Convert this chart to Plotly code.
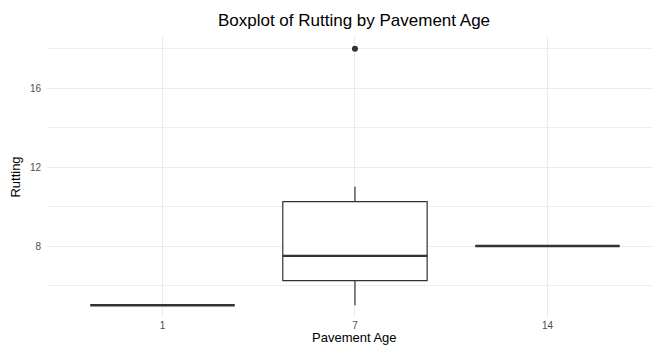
import plotly.graph_objects as go

ages = ["1", "7", "14"]
q1 = [5, 6.25, 8]
medians = [5, 7.5, 8]
q3 = [5, 10.25, 8]
lower_whisker = [5, 5, 8]
upper_whisker = [5, 11, 8]
outlier_ages = ["7"]
outlier_values = [18]

box_width = 0.75
positions = list(range(len(ages)))
pos_of = {a: i for i, a in enumerate(ages)}
line_col = "#333333"

W, H = 653, 339  # page body has an 8px margin

fig = go.Figure()
fig.add_trace(go.Box(
    x=positions, q1=q1, median=medians, q3=q3,
    lowerfence=lower_whisker, upperfence=upper_whisker,
    width=box_width, fillcolor="white",
    line=dict(color=line_col, width=1.2),
    boxpoints=False, whiskerwidth=0, showlegend=False, hoverinfo="skip",
))
mx, my = [], []
for i, m in enumerate(medians):
    mx += [i - box_width / 2, i + box_width / 2, None]
    my += [m, m, None]
fig.add_trace(go.Scatter(x=mx, y=my, mode="lines",
                         line=dict(color=line_col, width=2.4),
                         showlegend=False, hoverinfo="skip"))
fig.add_trace(go.Scatter(x=[pos_of[a] for a in outlier_ages], y=outlier_values,
                         mode="markers", marker=dict(color=line_col, size=6),
                         showlegend=False))

fig.add_annotation(text="Pavement Age", xref="paper", yref="paper", x=0.5, y=0,
                   xanchor="center", yanchor="bottom", yshift=-29, showarrow=False,
                   font=dict(size=13, color="black"))

fig.update_layout(
    width=W, height=H,
    margin=dict(l=39, r=0, t=28, b=29),
    plot_bgcolor="white", paper_bgcolor="white",
    font=dict(family="Liberation Sans, Arial, sans-serif", color="black"),
    title=dict(text="Boxplot of Rutting by Pavement Age", x=0.5, xanchor="center",
               xref="paper", yref="container", y=1 - 12 / H, yanchor="middle",
               font=dict(size=17, color="black")),
    xaxis=dict(
        tickmode="array", tickvals=positions, ticktext=ages,
        range=[-0.6, 2.59], showgrid=True, gridcolor="#EBEBEB", gridwidth=1,
        zeroline=False, showline=False, ticks="", ticklabelstandoff=0,
        tickfont=dict(size=10, color="#4D4D4D"),
    ),
    yaxis=dict(
        range=[4.35, 18.65], tickmode="array", tickvals=[8, 12, 16],
        showgrid=True, gridcolor="#EBEBEB", gridwidth=1,
        minor=dict(tickmode="array", tickvals=[6, 10, 14, 18], showgrid=True,
                   gridcolor="#EFEFEF", gridwidth=0.8),
        zeroline=False, showline=False, ticks="", ticklabelstandoff=5,
        tickfont=dict(size=10, color="#4D4D4D"),
        title=dict(text="Rutting", font=dict(size=13, color="black"), standoff=7),
    ),
)

fig.write_html("out.html")
